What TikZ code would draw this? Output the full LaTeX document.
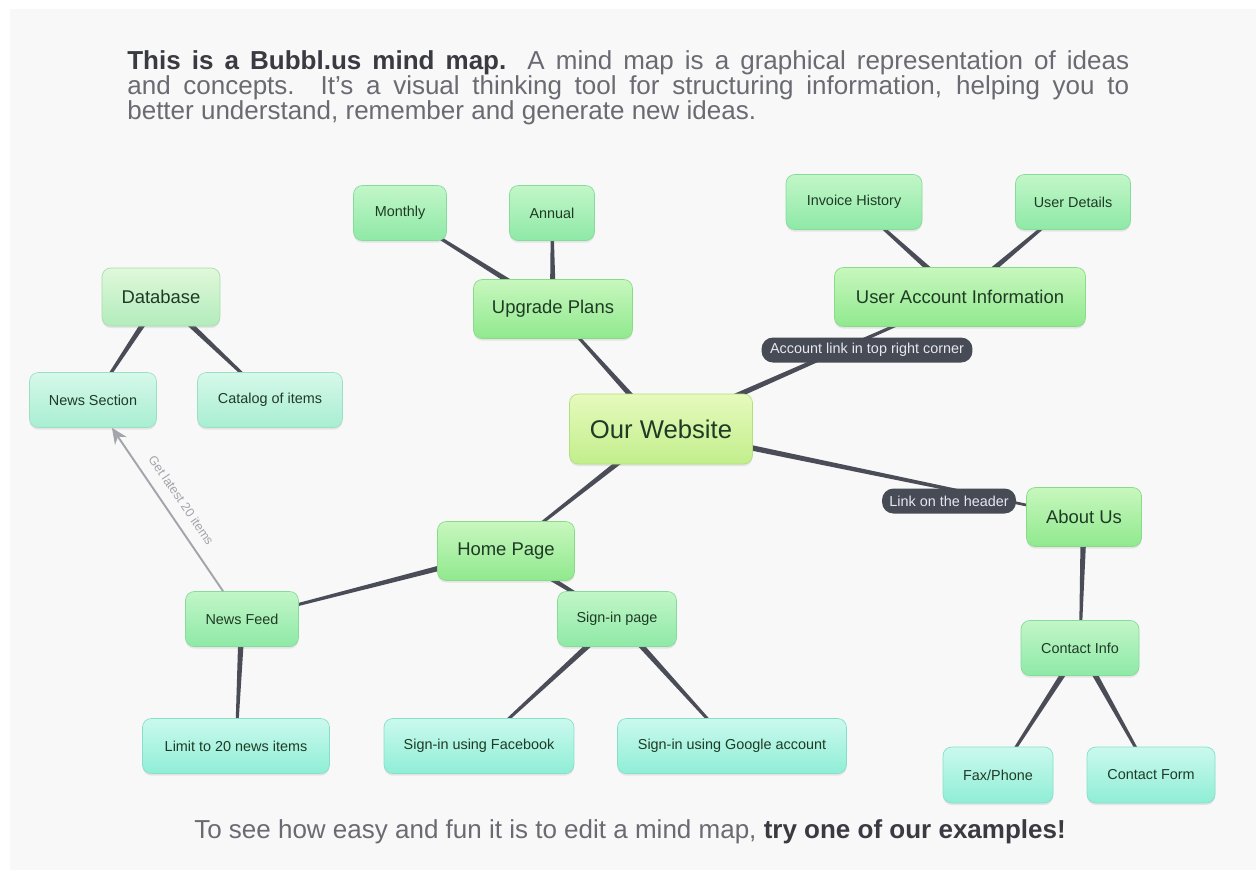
\documentclass[tikz,border=0pt]{standalone}
\usepackage{fontspec}
\setmainfont{Liberation Sans}
\usetikzlibrary{calc,shadows,arrows.meta}
\pgfdeclarelayer{back}
\pgfdeclarelayer{bg}
\pgfsetlayers{back,bg,main}
\definecolor{pagebg}{HTML}{F8F8F8}
\definecolor{desc}{HTML}{6A6A72}
\definecolor{descb}{HTML}{3A3A42}
\definecolor{nodetxt}{HTML}{1F3B25}
\definecolor{linkc}{HTML}{4A4C57}
\definecolor{arrowc}{HTML}{A4A4AC}
\definecolor{pillc}{HTML}{474B56}
\definecolor{pilltxt}{HTML}{E6E8EE}
\tikzset{
  box/.style={rounded corners=5pt, inner sep=0pt, text=nodetxt, align=center,
    drop shadow={opacity=0.16, shadow xshift=0pt, shadow yshift=-1.2pt}},
  fsmall/.style={font=\fontsize{8.2}{10}\selectfont},
  fmed/.style={font=\fontsize{10.5}{12}\selectfont},
  flarge/.style={font=\fontsize{14.6}{17}\selectfont},
  rootbox/.style={box, flarge, top color=rootT, bottom color=rootB, draw=rootD},
  gAbox/.style={box, fmed, top color=gAT, bottom color=gAB, draw=gAD},
  gBbox/.style={box, fsmall, top color=gBT, bottom color=gBB, draw=gBD},
  cybox/.style={box, fsmall, top color=cyT, bottom color=cyB, draw=cyD},
  dbbox/.style={box, fmed, top color=dbT, bottom color=dbB, draw=dbD},
  nsbox/.style={box, fsmall, top color=nsT, bottom color=nsB, draw=nsD},
  pill/.style={rounded corners=6.5pt, fill=pillc, text=pilltxt, inner sep=0pt, fsmall},
  desctext/.style={font=\fontsize{14.8}{18}\selectfont, text=desc, inner sep=0pt},
}
\definecolor{rootT}{HTML}{E6FABC}
\definecolor{rootB}{HTML}{C2EE8C}
\definecolor{rootD}{HTML}{B2E07E}
\definecolor{gAT}{HTML}{C8F7BE}
\definecolor{gAB}{HTML}{90E98E}
\definecolor{gAD}{HTML}{88DC88}
\definecolor{gBT}{HTML}{C2F6C8}
\definecolor{gBB}{HTML}{8EE9A6}
\definecolor{gBD}{HTML}{86DC9C}
\definecolor{cyT}{HTML}{CBF9EE}
\definecolor{cyB}{HTML}{8FEED6}
\definecolor{cyD}{HTML}{86E0C8}
\definecolor{dbT}{HTML}{E0F8DA}
\definecolor{dbB}{HTML}{B2ECBC}
\definecolor{dbD}{HTML}{A6DEB0}
\definecolor{nsT}{HTML}{D6F8EA}
\definecolor{nsB}{HTML}{A8EED2}
\definecolor{nsD}{HTML}{9CE0C4}
\newcommand\tapr[2]{\fill[linkc] ($(#1.center)!1.8pt!90:(#2.center)$) -- ($(#1.center)!1.8pt!-90:(#2.center)$) -- ($(#2.center)!0.6pt!90:(#1.center)$) -- ($(#2.center)!0.6pt!-90:(#1.center)$) -- cycle;}
\begin{document}
\begin{tikzpicture}[x=0.02cm, y=-0.02cm]
\useasboundingbox (0,0) rectangle (1256,870);
\begin{pgfonlayer}{back}
\fill[white] (0,0) rectangle (1256,870);
\fill[pagebg] (10,9) rectangle (1256,870);
\end{pgfonlayer}

% description
\node[desctext, anchor=base west] (t1) at (127,69) {\makebox[20.04cm][s]{\textcolor{descb}{\textbf{This is a Bubbl.us mind map.}} A mind map is a graphical representation of ideas}};
\node[desctext, anchor=base west] (t2) at (127,94) {\makebox[20.04cm][s]{and concepts. It's a visual thinking tool for structuring information, helping you to}};
\node[desctext, anchor=base west] (t3) at (127,119) {better understand, remember and generate new ideas.};
\node[desctext, anchor=base] (bt) at (630,838) {To see how easy and fun it is to edit a mind map, \textcolor{descb}{\textbf{try one of our examples!}}};

% nodes
\node[rootbox, minimum width=3.66cm, minimum height=1.4cm] (ow) at (661,429) {Our Website};
\node[dbbox, minimum width=2.36cm, minimum height=1.16cm] (db) at (161,297) {Database};
\node[nsbox, minimum width=2.54cm, minimum height=1.1cm] (ns) at (93,400) {News Section};
\node[nsbox, minimum width=2.9cm, minimum height=1.1cm] (cat) at (270,400) {Catalog of items};
\node[gBbox, minimum width=1.86cm, minimum height=1.1cm] (mon) at (400,213) {Monthly};
\node[gBbox, minimum width=1.7cm, minimum height=1.1cm] (ann) at (552,213) {Annual};
\node[gAbox, minimum width=3.18cm, minimum height=1.18cm] (up) at (553,309) {Upgrade Plans};
\node[gBbox, minimum width=2.72cm, minimum height=1.1cm] (inv) at (854,202) {Invoice History};
\node[gBbox, minimum width=2.3cm, minimum height=1.1cm] (ud) at (1073,202) {User Details};
\node[gAbox, minimum width=5.02cm, minimum height=1.18cm] (uai) at (960,297) {User Account Information};
\node[gAbox, minimum width=2.3cm, minimum height=1.18cm] (about) at (1084,517) {About Us};
\node[gBbox, minimum width=2.36cm, minimum height=1.1cm] (ci) at (1080,648) {Contact Info};
\node[cybox, minimum width=2.2cm, minimum height=1.12cm] (fax) at (998,775) {Fax/Phone};
\node[cybox, minimum width=2.56cm, minimum height=1.12cm] (cf) at (1151,775) {Contact Form};
\node[gAbox, minimum width=2.74cm, minimum height=1.18cm] (hp) at (506,551) {Home Page};
\node[gBbox, minimum width=2.26cm, minimum height=1.1cm] (nf) at (242,619) {News Feed};
\node[gBbox, minimum width=2.38cm, minimum height=1.1cm] (sp) at (617,619) {Sign-in page};
\node[cybox, minimum width=3.74cm, minimum height=1.1cm] (lim) at (236,746) {Limit to 20 news items};
\node[cybox, minimum width=3.8cm, minimum height=1.1cm] (fb) at (479,746) {Sign-in using Facebook};
\node[cybox, minimum width=4.58cm, minimum height=1.1cm] (gg) at (732,746) {Sign-in using Google account};

% connector labels
\node[pill, minimum width=4.22cm, minimum height=0.5cm] (lab1) at (867,350) {Account link in top right corner};
\node[pill, minimum width=2.68cm, minimum height=0.5cm] (lab2) at (949,501) {Link on the header};

% connectors
\begin{pgfonlayer}{bg}
\tapr{ow}{up}
\tapr{ow}{uai}
\tapr{ow}{about}
\tapr{ow}{hp}
\tapr{up}{mon}
\tapr{up}{ann}
\tapr{uai}{inv}
\tapr{uai}{ud}
\tapr{about}{ci}
\tapr{ci}{fax}
\tapr{ci}{cf}
\tapr{hp}{nf}
\tapr{hp}{sp}
\tapr{nf}{lim}
\tapr{sp}{fb}
\tapr{sp}{gg}
\tapr{db}{ns}
\tapr{db}{cat}
\end{pgfonlayer}
\draw[arrowc, line width=1.1pt, -{Stealth[length=9pt, width=8pt]}] (nf) -- node[sloped, above=3pt, font=\fontsize{7.2}{8}\selectfont, text=arrowc] (al) {Get latest 20 items} (ns);
\end{tikzpicture}
\end{document}
